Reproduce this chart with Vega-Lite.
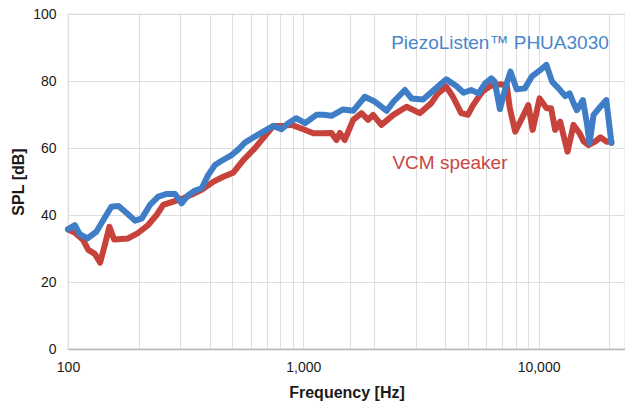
{
  "$schema": "https://vega.github.io/schema/vega-lite/v6.json",
  "width": 557,
  "height": 335,
  "autosize": {"type": "none"},
  "padding": {"left": 68, "top": 14, "right": 0, "bottom": 56},
  "background": "white",
  "config": {
    "view": {"stroke": "#d9cccc", "strokeWidth": 1.2},
    "font": "Liberation Sans"
  },
  "datasets": {
    "curves": [
      {"series": "VCM speaker", "freq": 100, "db": 35.7},
      {"series": "VCM speaker", "freq": 107, "db": 34.7},
      {"series": "VCM speaker", "freq": 116, "db": 32.5},
      {"series": "VCM speaker", "freq": 122, "db": 29.6},
      {"series": "VCM speaker", "freq": 130, "db": 28.4},
      {"series": "VCM speaker", "freq": 137, "db": 25.8},
      {"series": "VCM speaker", "freq": 144, "db": 31.6},
      {"series": "VCM speaker", "freq": 150, "db": 36.5},
      {"series": "VCM speaker", "freq": 157, "db": 32.7},
      {"series": "VCM speaker", "freq": 180, "db": 33.0},
      {"series": "VCM speaker", "freq": 199, "db": 34.7},
      {"series": "VCM speaker", "freq": 219, "db": 37.0},
      {"series": "VCM speaker", "freq": 238, "db": 40.0},
      {"series": "VCM speaker", "freq": 254, "db": 43.0},
      {"series": "VCM speaker", "freq": 280, "db": 44.0},
      {"series": "VCM speaker", "freq": 309, "db": 45.0},
      {"series": "VCM speaker", "freq": 340, "db": 46.3},
      {"series": "VCM speaker", "freq": 370, "db": 47.5},
      {"series": "VCM speaker", "freq": 414, "db": 49.9},
      {"series": "VCM speaker", "freq": 457, "db": 51.4},
      {"series": "VCM speaker", "freq": 503, "db": 52.6},
      {"series": "VCM speaker", "freq": 556, "db": 56.4},
      {"series": "VCM speaker", "freq": 622, "db": 59.9},
      {"series": "VCM speaker", "freq": 688, "db": 63.6},
      {"series": "VCM speaker", "freq": 746, "db": 66.6},
      {"series": "VCM speaker", "freq": 822, "db": 66.6},
      {"series": "VCM speaker", "freq": 892, "db": 66.9},
      {"series": "VCM speaker", "freq": 1000, "db": 65.6},
      {"series": "VCM speaker", "freq": 1103, "db": 64.4},
      {"series": "VCM speaker", "freq": 1200, "db": 64.4},
      {"series": "VCM speaker", "freq": 1318, "db": 64.5},
      {"series": "VCM speaker", "freq": 1384, "db": 62.4},
      {"series": "VCM speaker", "freq": 1430, "db": 64.5},
      {"series": "VCM speaker", "freq": 1501, "db": 62.4},
      {"series": "VCM speaker", "freq": 1630, "db": 68.4},
      {"series": "VCM speaker", "freq": 1768, "db": 70.4},
      {"series": "VCM speaker", "freq": 1886, "db": 68.4},
      {"series": "VCM speaker", "freq": 1980, "db": 69.9},
      {"series": "VCM speaker", "freq": 2147, "db": 66.9},
      {"series": "VCM speaker", "freq": 2416, "db": 69.9},
      {"series": "VCM speaker", "freq": 2748, "db": 72.3},
      {"series": "VCM speaker", "freq": 3125, "db": 70.4},
      {"series": "VCM speaker", "freq": 3500, "db": 73.4},
      {"series": "VCM speaker", "freq": 3737, "db": 76.3},
      {"series": "VCM speaker", "freq": 4052, "db": 78.3},
      {"series": "VCM speaker", "freq": 4325, "db": 75.3},
      {"series": "VCM speaker", "freq": 4691, "db": 70.4},
      {"series": "VCM speaker", "freq": 5007, "db": 69.9},
      {"series": "VCM speaker", "freq": 5270, "db": 72.8},
      {"series": "VCM speaker", "freq": 5760, "db": 76.8},
      {"series": "VCM speaker", "freq": 6226, "db": 78.5},
      {"series": "VCM speaker", "freq": 6851, "db": 79.0},
      {"series": "VCM speaker", "freq": 7318, "db": 78.8},
      {"series": "VCM speaker", "freq": 7547, "db": 71.9},
      {"series": "VCM speaker", "freq": 7955, "db": 64.9},
      {"series": "VCM speaker", "freq": 8435, "db": 68.4},
      {"series": "VCM speaker", "freq": 9044, "db": 72.8},
      {"series": "VCM speaker", "freq": 9440, "db": 65.4},
      {"series": "VCM speaker", "freq": 10100, "db": 74.8},
      {"series": "VCM speaker", "freq": 10800, "db": 71.9},
      {"series": "VCM speaker", "freq": 11300, "db": 71.9},
      {"series": "VCM speaker", "freq": 11760, "db": 65.4},
      {"series": "VCM speaker", "freq": 12350, "db": 67.9},
      {"series": "VCM speaker", "freq": 13280, "db": 58.9},
      {"series": "VCM speaker", "freq": 14080, "db": 66.9},
      {"series": "VCM speaker", "freq": 14930, "db": 64.4},
      {"series": "VCM speaker", "freq": 15560, "db": 61.9},
      {"series": "VCM speaker", "freq": 16300, "db": 60.9},
      {"series": "VCM speaker", "freq": 17400, "db": 61.9},
      {"series": "VCM speaker", "freq": 18300, "db": 63.2},
      {"series": "VCM speaker", "freq": 19500, "db": 61.9},
      {"series": "VCM speaker", "freq": 20400, "db": 61.9},
      {"series": "PiezoListen", "freq": 100, "db": 35.7},
      {"series": "PiezoListen", "freq": 107, "db": 37.0},
      {"series": "PiezoListen", "freq": 112, "db": 34.3},
      {"series": "PiezoListen", "freq": 121, "db": 33.0},
      {"series": "PiezoListen", "freq": 132, "db": 35.0},
      {"series": "PiezoListen", "freq": 144, "db": 39.5},
      {"series": "PiezoListen", "freq": 153, "db": 42.5},
      {"series": "PiezoListen", "freq": 164, "db": 42.7},
      {"series": "PiezoListen", "freq": 178, "db": 40.5},
      {"series": "PiezoListen", "freq": 193, "db": 38.3},
      {"series": "PiezoListen", "freq": 206, "db": 39.0},
      {"series": "PiezoListen", "freq": 223, "db": 43.0},
      {"series": "PiezoListen", "freq": 242, "db": 45.5},
      {"series": "PiezoListen", "freq": 263, "db": 46.3},
      {"series": "PiezoListen", "freq": 285, "db": 46.3},
      {"series": "PiezoListen", "freq": 304, "db": 43.5},
      {"series": "PiezoListen", "freq": 325, "db": 46.0},
      {"series": "PiezoListen", "freq": 345, "db": 47.2},
      {"series": "PiezoListen", "freq": 370, "db": 48.0},
      {"series": "PiezoListen", "freq": 394, "db": 51.9},
      {"series": "PiezoListen", "freq": 421, "db": 54.9},
      {"series": "PiezoListen", "freq": 450, "db": 56.2},
      {"series": "PiezoListen", "freq": 496, "db": 57.9},
      {"series": "PiezoListen", "freq": 530, "db": 59.6},
      {"series": "PiezoListen", "freq": 565, "db": 61.6},
      {"series": "PiezoListen", "freq": 622, "db": 63.4},
      {"series": "PiezoListen", "freq": 688, "db": 65.2},
      {"series": "PiezoListen", "freq": 746, "db": 66.6},
      {"series": "PiezoListen", "freq": 808, "db": 65.6},
      {"series": "PiezoListen", "freq": 863, "db": 67.4},
      {"series": "PiezoListen", "freq": 932, "db": 68.9},
      {"series": "PiezoListen", "freq": 1018, "db": 67.4},
      {"series": "PiezoListen", "freq": 1137, "db": 69.9},
      {"series": "PiezoListen", "freq": 1220, "db": 69.9},
      {"series": "PiezoListen", "freq": 1318, "db": 69.6},
      {"series": "PiezoListen", "freq": 1477, "db": 71.5},
      {"series": "PiezoListen", "freq": 1630, "db": 71.1},
      {"series": "PiezoListen", "freq": 1826, "db": 75.3},
      {"series": "PiezoListen", "freq": 2020, "db": 73.8},
      {"series": "PiezoListen", "freq": 2263, "db": 71.1},
      {"series": "PiezoListen", "freq": 2416, "db": 73.8},
      {"series": "PiezoListen", "freq": 2704, "db": 77.3},
      {"series": "PiezoListen", "freq": 2883, "db": 74.8},
      {"series": "PiezoListen", "freq": 3230, "db": 74.5},
      {"series": "PiezoListen", "freq": 3618, "db": 77.5},
      {"series": "PiezoListen", "freq": 4052, "db": 80.5},
      {"series": "PiezoListen", "freq": 4474, "db": 78.5},
      {"series": "PiezoListen", "freq": 4800, "db": 76.5},
      {"series": "PiezoListen", "freq": 5170, "db": 77.3},
      {"series": "PiezoListen", "freq": 5555, "db": 76.3},
      {"series": "PiezoListen", "freq": 5928, "db": 79.3},
      {"series": "PiezoListen", "freq": 6302, "db": 80.8},
      {"series": "PiezoListen", "freq": 6512, "db": 79.8},
      {"series": "PiezoListen", "freq": 6851, "db": 71.6},
      {"series": "PiezoListen", "freq": 7318, "db": 79.3},
      {"series": "PiezoListen", "freq": 7597, "db": 82.8},
      {"series": "PiezoListen", "freq": 8075, "db": 77.5},
      {"series": "PiezoListen", "freq": 8745, "db": 77.8},
      {"series": "PiezoListen", "freq": 9347, "db": 81.3},
      {"series": "PiezoListen", "freq": 10180, "db": 83.3},
      {"series": "PiezoListen", "freq": 10800, "db": 84.8},
      {"series": "PiezoListen", "freq": 11410, "db": 79.8},
      {"series": "PiezoListen", "freq": 12160, "db": 77.8},
      {"series": "PiezoListen", "freq": 12980, "db": 75.5},
      {"series": "PiezoListen", "freq": 13550, "db": 76.3},
      {"series": "PiezoListen", "freq": 14080, "db": 73.4},
      {"series": "PiezoListen", "freq": 14550, "db": 71.3},
      {"series": "PiezoListen", "freq": 15430, "db": 74.3},
      {"series": "PiezoListen", "freq": 16050, "db": 67.4},
      {"series": "PiezoListen", "freq": 16470, "db": 61.4},
      {"series": "PiezoListen", "freq": 17130, "db": 69.9},
      {"series": "PiezoListen", "freq": 18300, "db": 72.3},
      {"series": "PiezoListen", "freq": 19400, "db": 74.3},
      {"series": "PiezoListen", "freq": 20400, "db": 61.5}
    ],
    "labels": [
      {"label": "PiezoListen™ PHUA3030", "freq": 6855, "db": 91.4},
      {"label": "VCM speaker", "freq": 4200, "db": 55.5}
    ]
  },
  "encoding": {
    "x": {
      "field": "freq",
      "type": "quantitative",
      "scale": {"type": "log", "domain": [100, 23300], "nice": false},
      "axis": {
        "title": "Frequency [Hz]",
        "values": [100, 200, 300, 400, 500, 600, 700, 800, 900, 1000, 1580, 2000, 3000, 4000, 5000, 6000, 7000, 8000, 9000, 10000, 20000],
        "labelExpr": "datum.value == 100 || datum.value == 1000 || datum.value == 10000 ? format(datum.value, ',') : ''",
        "grid": true,
        "gridColor": "#dedede",
        "gridWidth": 1,
        "ticks": false,
        "domainColor": "#b3b8b8",
        "domainWidth": 1.5,
        "labelFontSize": 14,
        "labelColor": "#1a1a1a",
        "labelPadding": 11,
        "labelFlush": false,
        "labelOverlap": false,
        "titleFontSize": 16,
        "titleFontWeight": "bold",
        "titleColor": "#1a1a1a",
        "titlePadding": 10
      }
    },
    "y": {
      "field": "db",
      "type": "quantitative",
      "scale": {"domain": [0, 100], "nice": false},
      "axis": {
        "title": "SPL [dB]",
        "values": [0, 20, 40, 60, 80, 100],
        "grid": true,
        "gridColor": "#dedede",
        "ticks": false,
        "domain": false,
        "labelFontSize": 14,
        "labelColor": "#1a1a1a",
        "labelPadding": 12,
        "labelFlush": false,
        "titleFontSize": 16,
        "titleFontWeight": "bold",
        "titleColor": "#1a1a1a",
        "titlePadding": 6
      }
    }
  },
  "layer": [
    {
      "data": {"name": "curves"},
      "transform": [{"filter": "datum.series == 'VCM speaker'"}],
      "mark": {"type": "line", "color": "#c8423c", "strokeWidth": 6, "strokeJoin": "round", "strokeCap": "round"}
    },
    {
      "data": {"name": "curves"},
      "transform": [{"filter": "datum.series == 'PiezoListen'"}],
      "mark": {"type": "line", "color": "#3f7dc6", "strokeWidth": 6, "strokeJoin": "round", "strokeCap": "round"}
    },
    {
      "data": {"name": "labels"},
      "mark": {"type": "text", "fontSize": 19, "align": "center", "baseline": "middle"},
      "encoding": {
        "text": {"field": "label", "type": "nominal"},
        "color": {
          "field": "label",
          "type": "nominal",
          "scale": {"domain": ["PiezoListen™ PHUA3030", "VCM speaker"], "range": ["#4a86c8", "#c8463f"]},
          "legend": null
        }
      }
    }
  ]
}
